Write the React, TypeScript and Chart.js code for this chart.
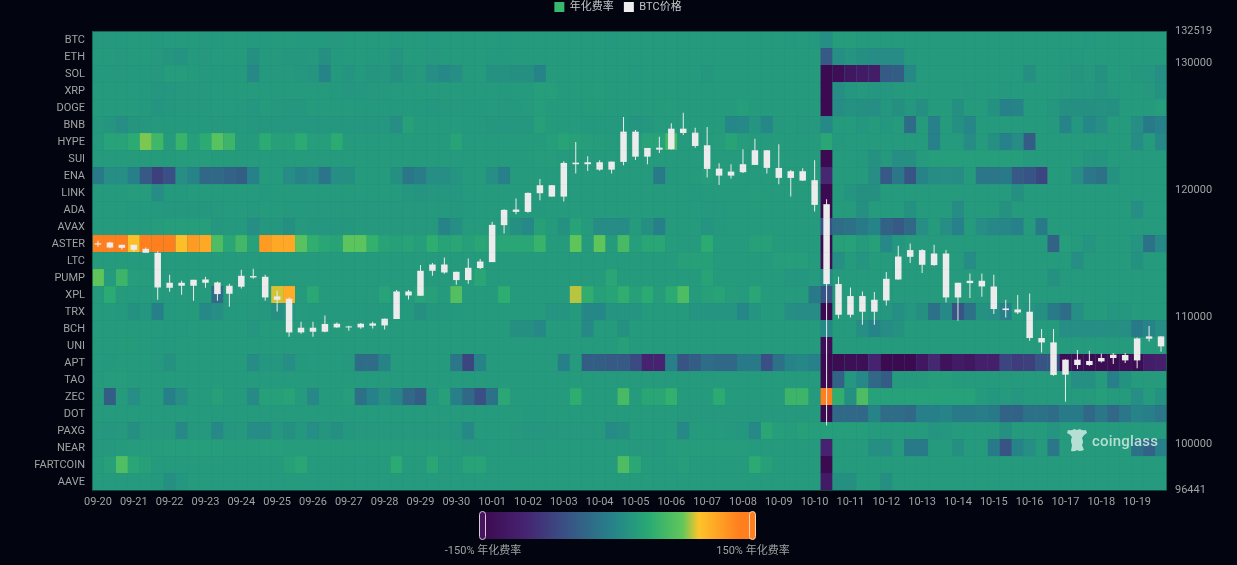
import React, { useEffect, useRef } from "react";
import { Chart, registerables } from "chart.js";
Chart.register(...registerables);

const days = ["09-20","09-21","09-22","09-23","09-24","09-25","09-26","09-27","09-28","09-29","09-30","10-01","10-02","10-03","10-04","10-05","10-06","10-07","10-08","10-09","10-10","10-11","10-12","10-13","10-14","10-15","10-16","10-17","10-18","10-19"];
const symbols = ["BTC","ETH","SOL","XRP","DOGE","BNB","HYPE","SUI","ENA","LINK","ADA","AVAX","ASTER","LTC","PUMP","XPL","TRX","BCH","UNI","APT","TAO","ZEC","DOT","PAXG","NEAR","FARTCOIN","AAVE"];
const priceTicks = [132519, 130000, 120000, 110000, 100000, 96441];

const BTC = [16,16,17,18,18,17,18,18,18,16,17,18,18,17,17,18,18,17,17,17,16,18,18,18,18,17,18,18,17,18,
  18,18,18,18,17,18,18,18,18,18,18,18,18,17,18,18,18,18,18,18,18,18,18,18,18,18,18,18,17,18,
  17,5,20,20,18,18,18,18,18,18,18,18,18,18,18,18,18,18,18,18,18,18,18,17,18,18,18,18,18,18];
const ETH = [18,18,16,18,18,16,13,11,17,16,18,18,18,8,17,16,15,15,16,8,17,18,18,17,17,12,18,18,16,18,
  18,18,18,17,17,18,18,18,18,18,18,18,18,18,18,18,18,18,18,18,18,18,18,18,18,18,18,18,18,18,
  18,-50,5,12,8,3,3,3,16,18,18,18,18,18,18,18,18,18,18,18,18,17,17,18,18,18,18,18,18,18];
const SOL = [17,17,16,17,17,16,20,20,18,16,17,17,17,0,17,16,16,15,13,-5,17,12,17,13,14,8,15,16,5,0,
  5,18,18,10,10,8,8,-5,18,18,18,18,18,18,18,17,18,18,18,18,18,15,18,18,18,18,18,18,18,18,
  18,-150,-140,-125,-120,-115,-50,-45,0,18,18,18,18,18,18,18,18,18,8,18,18,16,13,16,10,18,18,15,14,5];
const XRP = [18,18,18,18,17,14,14,16,16,16,18,18,18,18,18,18,18,18,18,18,17,14,14,16,16,18,18,18,18,18,
  18,18,18,18,17,18,18,22,22,18,18,19,20,18,18,18,18,18,18,18,18,18,18,18,18,18,18,18,18,18,
  18,-150,5,14,16,14,14,16,18,18,18,18,18,16,18,18,16,18,18,18,18,16,14,14,12,16,18,18,16,10];
const DOGE = [18,18,18,18,17,12,15,16,16,16,18,18,16,14,18,16,15,15,18,18,18,18,17,17,17,16,17,17,14,16,
  16,16,17,18,16,16,18,21,18,18,18,19,19,18,18,18,18,18,20,18,18,18,18,18,22,18,18,18,18,18,
  18,-150,3,10,8,5,14,8,15,8,18,18,8,18,18,10,-8,-5,18,18,14,8,8,8,10,8,18,18,18,22];
const BNB = [16,13,5,13,15,16,17,17,17,17,16,17,17,15,15,14,15,14,14,14,15,14,14,14,14,5,24,18,18,18,
  18,17,16,15,14,15,14,24,18,18,18,17,17,17,17,12,14,18,18,18,18,18,18,-2,0,12,-2,16,18,16,
  16,0,18,18,14,18,14,18,-30,18,-8,18,8,-3,18,18,18,18,18,18,16,-5,14,-2,5,18,18,5,-15,-8];
const HYPE = [18,26,26,35,75,50,18,45,22,35,65,48,18,18,35,24,24,35,22,22,35,18,18,18,18,18,18,18,18,18,
  28,18,18,18,18,18,18,18,22,28,24,22,20,18,18,18,26,26,55,18,18,18,20,28,20,18,18,18,18,18,
  18,30,16,18,18,18,18,18,18,18,-8,18,18,3,18,8,-8,3,-45,18,18,18,18,18,18,18,18,3,18,0];
const SUI = [18,18,18,19,19,19,19,20,20,20,19,19,18,18,18,18,18,18,18,18,18,18,18,18,18,18,18,18,18,18,
  18,18,18,18,18,18,18,20,20,18,18,18,18,18,18,18,18,18,18,18,18,18,18,18,18,18,18,18,18,18,
  18,-150,18,18,16,10,16,5,8,18,21,22,22,22,22,22,22,22,18,18,18,18,18,13,13,18,18,18,18,18];
const ENA = [-15,5,5,-10,-50,-75,-60,5,-5,-35,-35,-40,-45,-8,18,18,3,-5,0,-22,5,8,18,18,18,8,-20,-12,5,5,
  12,18,18,5,-10,18,18,18,18,18,18,18,18,18,18,18,18,-15,16,18,18,22,18,18,18,18,18,18,18,18,
  18,-100,18,18,18,5,-50,-20,-55,-5,3,5,3,18,-20,-20,-15,-50,-55,-70,18,18,5,-20,-25,10,18,18,18,18];
const LINK = [18,18,18,20,20,3,17,17,18,18,18,18,18,18,17,18,18,18,18,18,18,18,18,18,18,18,14,12,14,14,
  14,18,18,18,18,18,18,18,18,18,18,18,18,18,18,18,18,18,18,18,16,18,18,18,18,20,18,18,18,18,
  18,-150,18,12,8,8,18,18,18,18,18,18,18,18,18,18,18,8,18,18,18,18,18,18,18,18,18,18,18,18];
const ADA = [18,18,18,17,17,17,15,15,15,15,16,18,18,16,18,18,16,17,16,16,16,16,16,16,16,16,16,16,17,17,
  15,16,18,18,18,17,17,17,18,18,18,18,18,18,18,18,18,18,18,18,18,16,16,18,18,18,18,18,18,18,
  18,-150,18,18,8,18,18,18,10,18,18,18,3,18,18,18,10,18,18,18,18,18,18,18,18,18,18,5,18,18];
const AVAX = [18,18,18,18,18,20,22,22,22,21,14,17,17,5,15,15,8,16,15,14,14,15,16,16,16,16,16,16,16,-5,
  5,18,18,18,18,8,0,24,18,10,26,18,3,3,3,18,8,-10,18,18,18,12,16,18,18,18,18,18,18,18,
  18,-60,-30,-25,-15,-5,-40,-50,-35,5,18,5,-8,18,5,0,-3,-8,18,-15,18,18,18,18,18,18,18,18,18,18];
const ASTER = [140,138,138,93,140,140,140,93,117,108,58,30,52,25,117,108,108,65,40,30,28,68,68,42,28,24,28,22,38,28,
  30,24,30,28,30,30,30,45,18,18,70,18,70,18,55,22,30,30,20,18,18,36,18,18,18,24,24,18,18,18,
  18,-150,24,25,18,24,0,14,18,18,18,18,18,18,18,18,18,18,18,18,-40,22,18,12,18,18,18,12,-25,0];
const LTC = [18,18,18,18,18,18,18,18,18,18,18,18,18,18,18,18,18,18,18,18,18,18,18,18,18,18,18,18,18,18,
  18,18,18,18,18,18,18,18,18,18,18,18,18,18,18,18,18,18,18,24,24,24,18,18,18,18,18,22,22,22,
  18,-140,5,18,12,18,18,18,18,18,18,18,18,3,18,18,18,18,18,18,18,18,5,18,18,18,18,10,18,18];
const PUMP = [70,18,48,22,20,18,18,18,18,18,18,18,18,18,18,18,18,18,18,18,18,18,18,18,18,18,18,18,18,18,
  18,18,30,18,18,18,18,18,18,18,18,18,18,30,18,18,18,18,18,18,18,28,18,18,18,18,18,18,14,14,
  18,0,18,18,18,18,18,18,18,18,18,18,18,18,18,18,18,18,18,18,10,16,18,18,18,18,18,18,18,18];
const XPL = [18,35,18,18,18,18,18,18,18,18,-30,18,18,18,18,85,105,18,32,18,18,18,18,18,26,18,18,26,24,18,
  62,18,18,18,38,18,18,18,18,18,82,40,24,28,40,24,35,20,35,58,18,24,28,20,18,30,18,18,18,18,
  -15,-55,18,18,18,18,18,18,18,18,18,18,18,18,18,18,18,18,18,18,18,18,18,18,18,18,18,18,18,18];
const TRX = [18,18,17,10,14,-10,17,18,18,0,5,17,17,16,15,8,12,18,17,17,17,17,17,17,17,17,17,8,15,15,
  17,18,18,18,18,18,18,18,12,12,18,-2,-2,12,12,12,18,18,18,18,12,12,12,12,-2,12,18,18,5,3,
  3,-150,18,18,18,14,14,5,14,8,-25,0,-55,-25,10,5,-10,18,12,8,-15,-30,5,18,18,14,14,18,18,18];
const BCH = [18,18,18,18,18,18,17,17,18,18,18,18,18,14,18,18,18,18,18,18,18,18,18,18,18,18,18,18,18,18,
  18,18,18,18,18,8,8,0,18,18,18,0,18,18,10,18,18,18,18,18,18,18,18,18,18,18,18,18,18,18,
  18,0,18,18,5,-5,3,10,18,18,18,18,18,18,18,18,18,18,18,18,18,5,5,5,5,8,5,-15,-5,5];
const UNI = [18,18,19,19,18,17,17,18,18,18,18,18,18,18,18,18,18,18,18,18,18,18,18,18,18,18,18,18,18,18,
  18,18,18,18,18,18,18,18,18,18,18,18,18,18,24,18,18,18,18,18,18,18,18,18,18,18,18,18,18,18,
  18,-140,18,18,18,18,18,18,18,18,18,18,18,18,18,18,18,18,18,18,18,18,18,18,18,18,18,18,18,18];
const APT = [18,17,18,18,18,16,10,18,18,18,18,18,18,3,14,14,5,17,18,18,18,16,-30,-30,-5,18,18,18,18,18,
  -20,-70,-5,18,18,18,18,18,18,-10,18,-45,-45,-50,-50,-65,-105,-105,-10,-55,-45,-30,-35,-35,-15,-15,-60,-25,-5,-2,
  -8,-150,-145,-140,-140,-105,-150,-150,-150,-125,-100,-135,-120,-125,-110,-110,-70,-80,-75,-55,-55,-140,-140,-145,-145,-145,-140,-145,-115,-110];
const TAO = [18,20,20,18,18,18,18,18,18,18,18,18,18,18,18,18,18,18,18,18,18,18,18,18,18,18,18,18,18,18,
  18,18,18,18,18,18,18,18,18,18,18,18,18,18,18,18,18,18,18,18,18,18,18,18,18,18,18,18,18,18,
  18,-150,-40,14,0,-35,-45,18,18,18,22,22,18,18,18,18,18,18,18,18,18,18,5,8,18,-10,10,18,18,18];
const ZEC = [18,-45,18,5,18,18,-10,5,18,18,24,18,18,2,24,24,28,18,0,18,18,22,-25,-8,8,-5,-35,-45,14,24,
  -10,-35,-60,-25,32,18,18,18,18,18,38,18,18,18,55,18,30,30,42,18,18,18,35,18,18,18,18,18,48,48,
  18,138,40,8,58,25,25,25,25,25,25,25,25,25,18,14,18,14,18,18,18,18,18,18,22,18,18,5,18,10];
const DOT = [18,18,18,18,18,18,18,18,18,18,18,18,18,18,18,18,18,18,18,18,18,18,18,18,18,18,18,18,18,18,
  18,18,18,18,18,18,17,17,18,18,18,18,18,18,18,18,18,18,18,16,16,16,16,16,16,16,16,16,16,16,
  18,-150,-35,-35,-35,-5,-30,-30,-35,-10,-10,-5,-15,-15,-12,-15,-40,-40,-25,-25,-30,-15,-15,-35,-20,-35,-20,-5,-10,-20];
const PAXG = [16,14,16,8,16,16,16,0,16,16,0,14,16,3,3,14,8,14,5,13,8,14,16,16,16,16,16,16,16,16,
  14,0,18,18,18,16,14,14,15,16,16,16,16,2,8,18,18,18,18,0,18,18,18,16,14,0,30,22,20,24,
  22,22,22,22,22,18,18,18,18,18,12,14,18,18,18,18,8,18,18,18,12,18,18,18,18,18,18,18,18,18];
const NEAR = [16,16,18,20,20,20,21,21,22,22,22,20,20,20,22,22,20,20,20,20,20,20,20,20,20,20,20,20,20,20,
  18,16,16,18,18,16,16,16,18,18,18,18,18,18,18,16,16,16,20,20,20,20,20,20,20,18,18,18,18,18,
  18,-105,18,18,18,8,5,18,-15,-15,18,18,8,18,18,-15,-55,-5,5,18,-20,18,18,18,18,18,18,-25,-40,-10];
const FARTCOIN = [18,24,60,30,24,18,18,18,18,18,18,18,18,18,18,18,24,30,18,18,18,18,18,18,18,35,18,18,30,18,
  18,28,28,18,18,18,18,18,18,18,18,18,18,18,58,32,18,18,18,22,18,18,18,18,18,35,24,18,18,18,
  18,-150,18,18,18,18,18,18,18,18,18,18,18,18,18,18,18,18,18,18,18,18,18,18,18,18,18,18,18,18];
const AAVE = [18,18,18,18,18,17,8,14,18,18,18,18,18,18,18,18,18,18,18,18,18,18,18,18,18,18,18,18,18,18,
  18,18,18,18,18,18,18,18,18,18,18,18,18,18,18,18,18,18,18,18,18,18,18,18,18,18,18,18,18,18,
  18,-120,8,8,18,18,8,18,18,18,18,18,18,18,18,18,18,18,18,18,18,18,18,18,18,18,18,18,18,18];
const rateRows = [BTC,ETH,SOL,XRP,DOGE,BNB,HYPE,SUI,ENA,LINK,ADA,AVAX,ASTER,LTC,PUMP,XPL,TRX,BCH,UNI,APT,TAO,ZEC,DOT,PAXG,NEAR,FARTCOIN,AAVE];

const bodyHigh = [115830,115892,115712,115712,115398,115084,112729,112729,112964,112988,112753,112494,113278,113255,113200,111654,111473,109196,109196,109487,109511,109298,109511,109534,109903,112046,112046,113671,114165,114165,
  113592,113906,114401,117282,118459,118483,119794,120398,120398,122149,122172,122204,122204,122251,124606,124606,123326,123350,124842,124842,124528,123538,121701,121466,122047,123146,123146,121756,121497,121497,
  120791,118907,112627,111685,111685,111394,113043,114793,115296,115296,115029,115029,112729,112886,112886,112438,110711,110633,110453,108388,108042,106685,106685,106581,106818,107077,107053,108356,108514,108514];
const bodyLow = [115735,115500,115476,115320,115084,112360,112336,112494,112494,112729,111842,111866,112415,113145,111575,111394,108828,108828,108882,108882,109220,109220,109220,109354,109377,109880,111732,111708,113671,113537,
  112941,112941,113883,114353,117258,118302,118302,119770,119503,119503,122047,122047,121623,121623,122228,122643,122643,123193,123224,124504,123484,121678,121152,121152,121419,121992,121756,120972,120972,120760,
  118852,112627,110217,110217,110453,110453,111340,112988,114770,114142,114118,111575,111575,112705,112438,110664,110586,110397,108388,108042,105483,105507,106268,106268,106551,106818,106629,106629,108333,107729];
const wickHigh = [116026,115948,115712,115712,115500,115202,113357,112886,112964,113200,112831,112650,113749,113828,113357,112101,111575,109667,109667,110162,109612,109354,109565,109667,109926,112156,112156,114118,114275,114715,
  113592,114636,114589,117518,118514,119347,119817,120893,120422,122282,123797,122675,122361,122260,125760,124740,123326,124213,125265,126097,124920,124975,122125,122047,123224,124056,123170,123617,121600,121733,
  122361,119300,113200,112360,112046,112000,113568,115633,115814,115374,115712,115296,112729,113459,113459,113357,111394,111763,111889,109094,109094,106710,107446,107391,107179,107210,107210,108435,109330,108530];
const wickLow = [115555,115438,115320,115186,115084,111394,112022,111787,111316,112336,111316,110845,112281,113043,111316,110476,108490,108725,108490,108843,109196,108961,109118,109142,109063,109880,111418,111708,113278,113436,
  112572,112650,113804,114353,116599,118122,118224,119221,119503,119111,121309,121521,121544,121309,121969,122385,122047,122934,123200,124347,123350,120995,120422,120916,121364,121992,121309,120477,119503,120736,
  118326,101504,109927,110005,109432,109432,110952,112960,114275,113490,114065,111182,109746,111528,111630,110271,110005,110271,108176,107257,105428,103387,105954,106213,106472,106347,106425,106001,108121,107313];

const colorStops: [number, number[]][] = [
  [0, [60, 10, 80]], [0.15, [70, 34, 112]], [0.3, [58, 79, 133]], [0.48, [38, 131, 138]],
  [0.56, [37, 154, 125]], [0.62, [43, 171, 114]], [0.74, [98, 199, 90]], [0.8, [254, 195, 42]], [0.95, [255, 127, 31]], [1, [255, 127, 31]],
];
function rateColor(v: number) {
  const t = Math.min(1, Math.max(0, (v + 150) / 300));
  for (let i = 1; i < colorStops.length; i++) {
    const [a, ca] = colorStops[i - 1];
    const [b, cb] = colorStops[i];
    if (t <= b) {
      const k = (t - a) / (b - a);
      return `rgb(${ca.map((c, j) => Math.round(c + (cb[j] - c) * k)).join(",")})`;
    }
  }
  return "rgb(255,127,31)";
}
const gradientCss = `linear-gradient(90deg,${colorStops.map(([p, c]) => `rgb(${c.join(",")}) ${p * 100}%`).join(",")})`;

const BG = "#02040f";
const TICK = "#a3a3a3";
const FONT = "Roboto, 'Noto Sans CJK SC', sans-serif";

export default function App() {
  const ref = useRef<HTMLCanvasElement>(null);
  useEffect(() => {
    const xLabels = days.flatMap((d) => [d, "", ""]);
    const cellSets = rateRows.map((row, r) => ({
      type: "bar" as const,
      label: symbols[r],
      xAxisID: "x",
      yAxisID: "yCell",
      order: 5,
      data: row.map(() => [r, r + 1]),
      backgroundColor: row.map(rateColor),
      categoryPercentage: 1,
      barPercentage: 1,
      grouped: false,
      inflateAmount: 0,
      borderSkipped: false,
    }));
    const wick = {
      type: "bar" as const, label: "wick", xAxisID: "x", yAxisID: "yPrice", order: 2,
      data: wickLow.map((l, i) => [l, wickHigh[i]]),
      backgroundColor: "#ececec", barThickness: 1, grouped: false, inflateAmount: 0,
    };
    const body = {
      type: "bar" as const, label: "BTC价格", xAxisID: "x", yAxisID: "yPrice", order: 1,
      data: bodyLow.map((l, i) => [l, bodyHigh[i]]),
      backgroundColor: "#ececec", barThickness: 6.5, grouped: false, inflateAmount: 0,
    };
    const plotBase = {
      id: "plotBase",
      beforeDatasetsDraw(c: any) {
        const a = c.chartArea;
        c.ctx.save();
        c.ctx.fillStyle = "#238f78";
        c.ctx.fillRect(a.left, a.top, a.width, a.height);
        c.ctx.restore();
      },
      afterDatasetsDraw(c: any) {
        const a = c.chartArea;
        c.ctx.save();
        c.ctx.strokeStyle = "rgba(14,90,78,0.8)";
        c.ctx.lineWidth = 1;
        c.ctx.strokeRect(a.left + 0.5, a.top + 0.5, a.width - 1, a.height);
        c.ctx.restore();
      },
      afterLayout(c: any) {
        c.legend.top = -8.5;
        c.legend.left -= 1;
      },
    };
    const chart = new Chart(ref.current!, {
      type: "bar",
      data: { labels: xLabels, datasets: [...cellSets, wick, body] as any },
      plugins: [plotBase],
      options: {
        responsive: false,
        animation: false,
        layout: { padding: 0 },
        plugins: {
          tooltip: { enabled: false },
          legend: {
            display: true,
            position: "top",
            labels: {
              color: "#c8c8c8",
              font: { family: FONT, size: 11 },
              boxWidth: 10,
              boxHeight: 10,
              padding: 10,
              generateLabels: () => [
                { text: "年化费率", fillStyle: "#36b96c", strokeStyle: "#36b96c", lineWidth: 0, fontColor: "#c8c8c8" },
                { text: "BTC价格", fillStyle: "#eeeeee", strokeStyle: "#eeeeee", lineWidth: 0, fontColor: "#c8c8c8" },
              ] as any,
            },
          },
        },
        scales: {
          x: {
            type: "category",
            offset: true,
            grid: { display: false, drawTicks: false },
            border: { display: false },
            ticks: { color: TICK, font: { family: FONT, size: 11 }, autoSkip: false, maxRotation: 0, padding: 6 },
            afterFit(s: any) { s.height = 75; },
          },
          yCat: {
            type: "category",
            position: "left",
            labels: symbols,
            offset: true,
            grid: { color: "rgba(0,0,0,0.025)", offset: true, z: 1, drawTicks: false },
            border: { display: false },
            ticks: { color: TICK, font: { family: FONT, size: 11 }, autoSkip: false, padding: 7, labelOffset: 1 },
            afterFit(s: any) { s.width = 92; },
          },
          yCell: { type: "linear", display: false, min: 0, max: 27, reverse: true },
          yPrice: {
            type: "linear",
            position: "right",
            min: 96441,
            max: 132519,
            grid: { display: false, drawTicks: false },
            border: { display: false },
            ticks: { color: TICK, font: { family: FONT, size: 11 }, padding: 8, autoSkip: false, callback: (v: any) => String(v) },
            afterBuildTicks(s: any) { s.ticks = priceTicks.map((value) => ({ value })); },
            afterFit(s: any) { s.width = 70; },
          },
        },
      } as any,
    });
    return () => chart.destroy();
  }, []);

  const labelStyle: React.CSSProperties = {
    position: "absolute", top: 544, width: 120, textAlign: "center", color: TICK,
    font: `11px ${FONT}`, lineHeight: "13px", whiteSpace: "nowrap",
  };
  const handle = (left: number, fill: string, border: string): React.CSSProperties => ({
    position: "absolute", left, top: 511, width: 5, height: 27, background: fill,
    border: `1.5px solid ${border}`, borderRadius: 4,
  });
  return (
    <div style={{ position: "absolute", left: 0, top: 0, width: 1237, height: 565, background: BG, overflow: "hidden" }}>
      <canvas ref={ref} width={1237} height={565} style={{ display: "block", width: 1237, height: 565 }} />
      <div style={{ position: "absolute", left: 483, top: 512, width: 270, height: 27, background: gradientCss }} />
      <div style={handle(479, "#45145c", "#d9c8e0")} />
      <div style={handle(749, "#ff7f1f", "#ffd4b4")} />
      <div style={{ ...labelStyle, left: 423 }}>-150% 年化费率</div>
      <div style={{ ...labelStyle, left: 693 }}>150% 年化费率</div>
      <svg style={{ position: "absolute", left: 1067, top: 428 }} width="20" height="24" viewBox="0 0 20 24">
        <path d="M1 2 Q5 3 7 1 L10 2 L13 1 Q15 3 19 2 L20 5 Q16 7 15 10 Q17 14 15 17 L17 22 Q12 24 10 22 Q8 24 4 23 L5 17 Q3 12 5 9 Q3 6 0 5 Z" fill="#b5dfd3" />
      </svg>
      <div style={{ position: "absolute", left: 1092, top: 431, color: "#b5dfd3", font: `500 15px ${FONT}`, lineHeight: "20px", letterSpacing: 0.2 }}>coinglass</div>
    </div>
  );
}
